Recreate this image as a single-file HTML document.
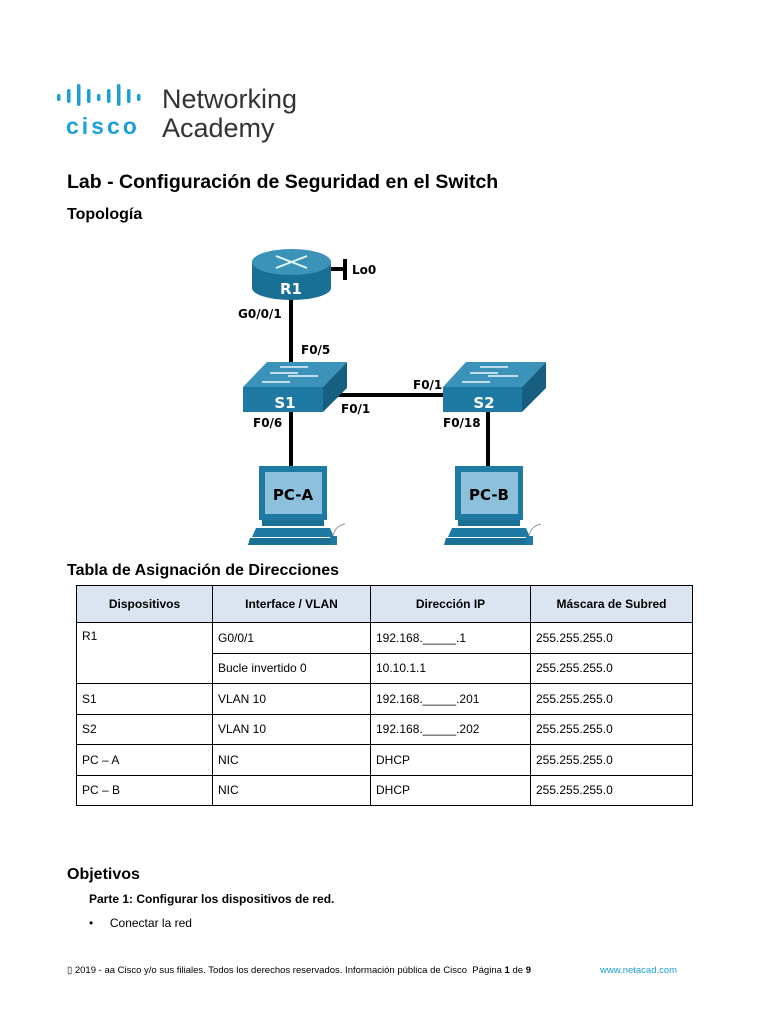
<!DOCTYPE html>
<html><head><meta charset="utf-8"><style>
body{margin:0;width:768px;height:1024px;background:#fff;position:relative;font-family:"Liberation Sans",Arial,sans-serif;color:#000;overflow:hidden}
.a{position:absolute;white-space:nowrap}
table{position:absolute;left:76px;top:585px;border-collapse:collapse;font-size:12px;table-layout:fixed;width:616px}
td{border:1px solid #000;padding:0 0 0 5px;height:29.5px;vertical-align:middle;overflow:hidden;white-space:nowrap}
th{background:#dbe5f1;border:1px solid #000;height:36px;padding:0;font-size:12px;font-weight:bold;text-align:center}
</style></head><body>
<svg class="a" style="left:0;top:0" width="768" height="560">
<g fill="#1ba0d7">
<rect x="57" y="94" width="3.5" height="7" rx="1.7"/><rect x="67" y="89" width="3.5" height="14" rx="1.7"/><rect x="77" y="84" width="3.5" height="22" rx="1.7"/><rect x="87" y="89" width="3.5" height="14" rx="1.7"/><rect x="97" y="94" width="3.5" height="7" rx="1.7"/><rect x="107" y="89" width="3.5" height="14" rx="1.7"/><rect x="117" y="84" width="3.5" height="22" rx="1.7"/><rect x="127" y="89" width="3.5" height="14" rx="1.7"/><rect x="137" y="94" width="3.5" height="7" rx="1.7"/>
</g>
<text x="66" y="134" font-family="Liberation Sans" font-weight="bold" font-size="23" fill="#1ba0d7" letter-spacing="3">cisco</text>
<text x="162" y="108" font-family="Liberation Sans" font-size="27" fill="#333">Networking</text>
<text x="162" y="137" font-family="Liberation Sans" font-size="27" fill="#333">Academy</text>
<g stroke="#000" stroke-width="4">
<line x1="291" y1="295" x2="291" y2="366"/><line x1="330" y1="269" x2="345" y2="269"/><line x1="345" y1="259" x2="345" y2="280"/>
<line x1="325" y1="395" x2="445" y2="395"/>
<line x1="291" y1="410" x2="291" y2="468"/><line x1="488" y1="410" x2="488" y2="468"/>
</g>
<rect x="252" y="262" width="79" height="26" fill="#1a6f94"/>
<ellipse cx="291.5" cy="288" rx="39.5" ry="12" fill="#1a6f94"/>
<ellipse cx="291.5" cy="262" rx="39.5" ry="13" fill="#3b93b8"/>
<g stroke="#e8f4fa" stroke-width="2"><line x1="276" y1="256" x2="307" y2="268"/><line x1="276" y1="268" x2="307" y2="256"/></g>
<text x="291" y="294" text-anchor="middle" font-family="DejaVu Sans" font-weight="bold" font-size="15" fill="#fff">R1</text>
<g>
<polygon points="243,387 323,387 347,362 267,362" fill="#3c93b9"/>
<polygon points="323,387 347,362 347,388 323,412" fill="#175f80"/>
<rect x="243" y="387" width="80" height="25" fill="#1f7aa3"/>
<g stroke="#eaf5fb" stroke-width="1.5"><line x1="280" y1="367" x2="308" y2="367"/><line x1="270" y1="373" x2="298" y2="373"/><line x1="288" y1="376" x2="318" y2="376"/><line x1="262" y1="382" x2="290" y2="382"/></g>
<text x="285" y="408" text-anchor="middle" font-family="DejaVu Sans" font-weight="bold" font-size="15" fill="#fff">S1</text>
<polygon points="443,387 522,387 546,362 466,362" fill="#3c93b9"/>
<polygon points="522,387 546,362 546,388 522,412" fill="#175f80"/>
<rect x="443" y="387" width="79" height="25" fill="#1f7aa3"/>
<g stroke="#eaf5fb" stroke-width="1.5"><line x1="480" y1="367" x2="508" y2="367"/><line x1="470" y1="373" x2="498" y2="373"/><line x1="488" y1="376" x2="518" y2="376"/><line x1="462" y1="382" x2="490" y2="382"/></g>
<text x="484" y="408" text-anchor="middle" font-family="DejaVu Sans" font-weight="bold" font-size="15" fill="#fff">S2</text>
</g>
<g>
<rect x="259" y="466" width="68" height="54" fill="#1f7aa3"/>
<rect x="265" y="472" width="57" height="42" fill="#8dc0da"/>
<rect x="262" y="520" width="62" height="6" fill="#1a6f94"/>
<polygon points="256,528 330,528 334,537 252,537" fill="#1f7aa3"/>
<polygon points="250,538 334,538 336,545 248,545" fill="#1a6f94"/>
<rect x="330" y="536" width="7" height="9" fill="#1f7aa3"/>
<path d="M333 536 q2 -10 12 -12" stroke="#999" fill="none"/>
<text x="293" y="500" text-anchor="middle" font-family="DejaVu Sans" font-weight="bold" font-size="15" fill="#000">PC-A</text>
</g>
<g transform="translate(196,0)">
<rect x="259" y="466" width="68" height="54" fill="#1f7aa3"/>
<rect x="265" y="472" width="57" height="42" fill="#8dc0da"/>
<rect x="262" y="520" width="62" height="6" fill="#1a6f94"/>
<polygon points="256,528 330,528 334,537 252,537" fill="#1f7aa3"/>
<polygon points="250,538 334,538 336,545 248,545" fill="#1a6f94"/>
<rect x="330" y="536" width="7" height="9" fill="#1f7aa3"/>
<path d="M333 536 q2 -10 12 -12" stroke="#999" fill="none"/>
<text x="293" y="500" text-anchor="middle" font-family="DejaVu Sans" font-weight="bold" font-size="15" fill="#000">PC-B</text>
</g>
<g font-family="DejaVu Sans" font-weight="bold" font-size="12" fill="#000">
<text x="352" y="274">Lo0</text><text x="238" y="318">G0/0/1</text><text x="301" y="354">F0/5</text>
<text x="341" y="413">F0/1</text><text x="413" y="389">F0/1</text><text x="253" y="427">F0/6</text><text x="443" y="427">F0/18</text>
</g>
</svg>
<div class="a" style="left:67px;top:171px;font-size:19.5px;font-weight:bold">Lab - Configuración de Seguridad en el Switch</div>
<div class="a" style="left:67px;top:206px;font-size:16px;font-weight:bold">Topología</div>
<div class="a" style="left:67px;top:562px;font-size:16px;font-weight:bold">Tabla de Asignación de Direcciones</div>
<table>
<colgroup><col style="width:136px"><col style="width:158px"><col style="width:160px"><col style="width:162px"></colgroup>
<tr><th>Dispositivos</th><th>Interface / VLAN</th><th>Dirección IP</th><th>Máscara de Subred</th></tr>
<tr><td rowspan="2" style="vertical-align:top;padding-top:6px">R1</td><td>G0/0/1</td><td>192.168._____.1</td><td>255.255.255.0</td></tr>
<tr><td>Bucle invertido 0</td><td>10.10.1.1</td><td>255.255.255.0</td></tr>
<tr><td>S1</td><td>VLAN 10</td><td>192.168._____.201</td><td>255.255.255.0</td></tr>
<tr><td>S2</td><td>VLAN 10</td><td>192.168._____.202</td><td>255.255.255.0</td></tr>
<tr><td>PC – A</td><td>NIC</td><td>DHCP</td><td>255.255.255.0</td></tr>
<tr><td>PC – B</td><td>NIC</td><td>DHCP</td><td>255.255.255.0</td></tr>
</table>
<div class="a" style="left:67px;top:866px;font-size:16px;font-weight:bold">Objetivos</div>
<div class="a" style="left:89px;top:892px;font-size:12px;font-weight:bold">Parte 1: Configurar los dispositivos de red.</div>
<div class="a" style="left:89px;top:916px;font-size:12px">•&nbsp;&nbsp;&nbsp;&nbsp;&nbsp;Conectar la red</div>
<div class="a" style="left:67px;top:965px;font-size:9.5px">▯ 2019 - aa Cisco y/o sus filiales. Todos los derechos reservados. Información pública de Cisco&nbsp; Página <b>1</b> de <b>9</b></div>
<div class="a" style="left:600px;top:965px;font-size:9.5px;color:#1ba0d7">www.netacad.com</div>
</body></html>
